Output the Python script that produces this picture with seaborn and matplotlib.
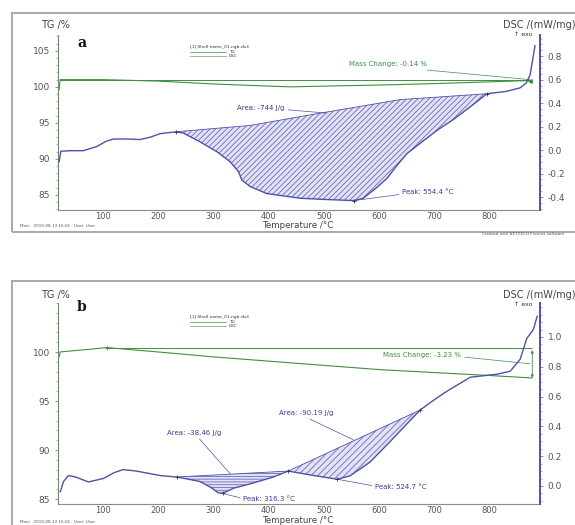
import numpy as np
import seaborn as sns
import matplotlib.pyplot as plt
from matplotlib.patches import Rectangle
from matplotlib.lines import Line2D
from matplotlib.ticker import MultipleLocator

# ---- panel a data ----
temp_tg_a = [20, 22, 100, 200, 300, 400, 438, 500, 600, 700, 800, 873]
tg_a = [99.6, 101.0, 101.0, 100.8, 100.4, 100.1, 100.0, 100.1, 100.25, 100.45, 100.7, 100.88]
tg_ref_a = 101.0

temp_dsc_a = [20, 23, 40, 64, 88, 105, 118, 140, 167, 185, 203, 232, 245, 275, 306, 330, 345,
              351, 366, 396, 457, 500, 554, 571, 595, 614, 632, 650, 680, 705, 734, 765, 795,
              830, 855, 866, 873, 882]
dsc_a = [-0.10, -0.01, -0.005, -0.005, 0.03, 0.075, 0.094, 0.095, 0.09, 0.11, 0.14, 0.156, 0.145,
         0.071, -0.014, -0.10, -0.185, -0.255, -0.31, -0.37, -0.41, -0.42, -0.43, -0.41, -0.32,
         -0.24, -0.13, -0.03, 0.08, 0.17, 0.26, 0.37, 0.48, 0.50, 0.53, 0.57, 0.64, 0.89]
base_temp_a = [232, 366, 487, 638, 795]
base_a = [0.156, 0.21, 0.31, 0.43, 0.48]

# ---- panel b data ----
temp_tg_b = [20, 22, 30, 60, 107, 200, 300, 438, 601, 700, 800, 877]
tg_b = [99.5, 100.0, 100.05, 100.2, 100.45, 100.0, 99.5, 98.9, 98.2, 97.9, 97.6, 97.35]
tg_ref_b = 100.45

temp_dsc_b = [22, 28, 37, 50, 73, 100, 120, 136, 160, 203, 233, 255, 275, 295, 308, 316, 336,
              366, 408, 435, 475, 524, 547, 583, 620, 661, 674, 700, 722, 765, 813, 837, 855,
              867, 879, 886]
dsc_b = [-0.04, 0.03, 0.07, 0.06, 0.027, 0.05, 0.09, 0.11, 0.10, 0.07, 0.06, 0.045, 0.03, -0.01,
         -0.045, -0.05, -0.015, 0.014, 0.06, 0.10, 0.074, 0.045, 0.068, 0.16, 0.30, 0.46, 0.51,
         0.58, 0.635, 0.73, 0.75, 0.77, 0.85, 0.99, 1.05, 1.14]
base_temp_b1 = [233, 435]
base_b1 = [0.06, 0.10]
base_temp_b2 = [435, 674]
base_b2 = [0.10, 0.51]

x_ticks = [100, 200, 300, 400, 500, 600, 700, 800]

GREEN = '#3f8f3f'
BLUE = '#5050a8'
TXT_BLUE = '#3a3aa0'
GREY = '#555555'

sns.set_style("white")
plt.rcParams['font.family'] = ['DejaVu Sans']
plt.rcParams['hatch.linewidth'] = 0.6

W, H = 575, 525
fig = plt.figure(figsize=(W / 100, H / 100), dpi=100)


def fx(px):
    return px / W


def fy(py):
    return 1 - py / H


def style_axes(ax, ax2):
    ax.set_xlim(18, 891)
    ax.set_xticks(x_ticks)
    ax.xaxis.set_minor_locator(MultipleLocator(20))
    ax.yaxis.set_minor_locator(MultipleLocator(1))
    ax2.yaxis.set_minor_locator(MultipleLocator(0.05))
    for a in (ax, ax2):
        a.tick_params(which='major', direction='out', length=2.5, width=0.6, colors='#808080',
                      labelsize=6.5, labelcolor=GREY)
        a.tick_params(which='minor', direction='out', length=1.3, width=0.5, colors='#909090')
        a.spines['top'].set_visible(False)
    ax.spines['right'].set_visible(False)
    ax.spines['left'].set_color('#708a70')
    ax.spines['bottom'].set_color('#8a8a8a')
    ax2.spines['left'].set_visible(False)
    ax2.spines['bottom'].set_visible(False)
    ax2.spines['right'].set_color(BLUE)
    ax2.spines['right'].set_linewidth(1.4)
    ax.tick_params(axis='x', which='major', length=1.5, pad=0, labelsize=6)
    ax.tick_params(axis='y', pad=3)
    ax2.tick_params(axis='y', pad=3)
    ax.set_xlabel('')
    ax.set_ylabel('')
    ax2.set_ylabel('')


def hatch_area(ax2, temps, vals, btemps, bvals, hatch):
    xs = np.array(temps)
    m = (xs >= btemps[0]) & (xs <= btemps[-1])
    xf = np.union1d(xs[m], btemps)
    cur = np.interp(xf, temps, vals)
    bas = np.interp(xf, btemps, bvals)
    ax2.fill_between(xf, cur, bas, facecolor='#e2e2f4', edgecolor='#6a6ac0', hatch=hatch,
                     linewidth=0, zorder=1)
    ax2.plot(btemps, bvals, color=BLUE, lw=0.6, zorder=2)


# ================= panel a =================
ax_a = fig.add_axes([fx(58), fy(210), fx(540) - fx(58), fy(35) - fy(210)])
ax_a2 = ax_a.twinx()

ax_a.hlines(tg_ref_a, temp_tg_a[1], temp_tg_a[-1], color=GREEN, lw=0.7)
sns.lineplot(x=temp_tg_a, y=tg_a, ax=ax_a, color=GREEN, lw=0.8, estimator=None, sort=False)
ax_a.set_ylim(82.9, 107.2)
ax_a.set_yticks([85, 90, 95, 100, 105])

hatch_area(ax_a2, temp_dsc_a, dsc_a, base_temp_a, base_a, '//////')
sns.lineplot(x=temp_dsc_a, y=dsc_a, ax=ax_a2, color=BLUE, lw=1.0, estimator=None, sort=False,
             zorder=3)
ax_a2.set_ylim(-0.51, 0.98)
ax_a2.set_yticks([-0.4, -0.2, 0.0, 0.2, 0.4, 0.6, 0.8])
ax_a2.set_yticklabels(['-0.4', '-0.2', '0.0', '0.2', '0.4', '0.6', '0.8'])
style_axes(ax_a, ax_a2)

ax_a2.plot([base_temp_a[0], 554, base_temp_a[-1]],
           [base_a[0], dsc_a[temp_dsc_a.index(554)], base_a[-1]],
           '+', color='#333366', ms=3, mew=0.6, zorder=4)
ax_a2.annotate('Area: -744 J/g', xy=(505, 0.315), xytext=(386, 0.355), fontsize=5,
               color=TXT_BLUE, ha='center', va='center',
               arrowprops=dict(arrowstyle='-', color=BLUE, lw=0.5, relpos=(1, 0.3),
                               shrinkA=0, shrinkB=0))
ax_a2.annotate('Peak: 554.4 °C', xy=(554, dsc_a[temp_dsc_a.index(554)]), xytext=(641, -0.36),
               fontsize=5, color=TXT_BLUE, ha='left', va='center',
               arrowprops=dict(arrowstyle='-', color=BLUE, lw=0.5, relpos=(0, 0.2),
                               shrinkA=0, shrinkB=0))
ax_a.annotate('Mass Change: -0.14 %', xy=(873, tg_ref_a), xytext=(616, 103.2), fontsize=5,
              color=GREEN, ha='center', va='center',
              arrowprops=dict(arrowstyle='-', color=GREEN, lw=0.5, relpos=(0.55, 0),
                              shrinkA=0, shrinkB=0))
ax_a.plot([873], [tg_a[-1]], marker='<', color=GREEN, ms=2.5)

# ================= panel b =================
ax_b = fig.add_axes([fx(58), fy(504), fx(540) - fx(58), fy(303) - fy(504)])
ax_b2 = ax_b.twinx()

ax_b.hlines(tg_ref_b, temp_tg_b[4], temp_tg_b[-1], color=GREEN, lw=0.7)
sns.lineplot(x=temp_tg_b, y=tg_b, ax=ax_b, color=GREEN, lw=0.8, estimator=None, sort=False)
ax_b.set_ylim(84.49, 105.0)
ax_b.set_yticks([85, 90, 95, 100])
ax_b.plot([temp_tg_b[4]], [tg_b[4]], '+', color=GREEN, ms=3, mew=0.6)

hatch_area(ax_b2, temp_dsc_b, dsc_b, base_temp_b1, base_b1, '------')
hatch_area(ax_b2, temp_dsc_b, dsc_b, base_temp_b2, base_b2, '/////')
sns.lineplot(x=temp_dsc_b, y=dsc_b, ax=ax_b2, color=BLUE, lw=1.0, estimator=None, sort=False,
             zorder=3)
ax_b2.set_ylim(-0.121, 1.228)
ax_b2.set_yticks([0.0, 0.2, 0.4, 0.6, 0.8, 1.0])
ax_b2.set_yticklabels(['0.0', '0.2', '0.4', '0.6', '0.8', '1.0'])
style_axes(ax_b, ax_b2)

ax_b2.plot([233, 316, 435, 524, 674],
           [dsc_b[temp_dsc_b.index(t)] for t in (233, 316, 435, 524, 674)],
           '+', color='#333366', ms=3, mew=0.6, zorder=4)
ax_b2.annotate('Area: -38.46 J/g', xy=(330, 0.081), xytext=(264, 0.358), fontsize=5,
               color=TXT_BLUE, ha='center', va='center',
               arrowprops=dict(arrowstyle='-', color=BLUE, lw=0.5, relpos=(0.55, 0),
                               shrinkA=0, shrinkB=0))
ax_b2.annotate('Peak: 316.3 °C', xy=(316, -0.05), xytext=(353, -0.088), fontsize=5,
               color=TXT_BLUE, ha='left', va='center',
               arrowprops=dict(arrowstyle='-', color=BLUE, lw=0.5, relpos=(0, 0.6),
                               shrinkA=0, shrinkB=0))
ax_b2.annotate('Area: -90.19 J/g', xy=(553, 0.31), xytext=(467, 0.49), fontsize=5,
               color=TXT_BLUE, ha='center', va='center',
               arrowprops=dict(arrowstyle='-', color=BLUE, lw=0.5, relpos=(0.45, 0),
                               shrinkA=0, shrinkB=0))
ax_b2.annotate('Peak: 524.7 °C', xy=(524, 0.045), xytext=(592, -0.005), fontsize=5,
               color=TXT_BLUE, ha='left', va='center',
               arrowprops=dict(arrowstyle='-', color=BLUE, lw=0.5, relpos=(0, 0.6),
                               shrinkA=0, shrinkB=0))
ax_b.annotate('Mass Change: -3.23 %', xy=(873, 98.8), xytext=(678, 99.69), fontsize=5,
              color=GREEN, ha='center', va='center',
              arrowprops=dict(arrowstyle='-', color=GREEN, lw=0.5, relpos=(1, 0.2),
                              shrinkA=0, shrinkB=0))
ax_b.annotate('', xy=(877, 97.35), xytext=(877, 100.2),
              arrowprops=dict(arrowstyle='<|-|>', color=GREEN, lw=0.6, mutation_scale=4,
                              shrinkA=0, shrinkB=0))

# ================= frame, labels, small texts =================
fig.add_artist(Rectangle((fx(12), fy(232)), 1.0, fy(13) - fy(232), transform=fig.transFigure,
                         fill=False, edgecolor='#a8a8a8', lw=1.4))
fig.add_artist(Rectangle((fx(12), -0.1), 1.0, fy(281) + 0.1, transform=fig.transFigure,
                         fill=False, edgecolor='#a8a8a8', lw=1.4))

for top, xl_y, foot_y, tag in [(0, 221.5, 226, 'a'), (270, 516.3, 522, 'b')]:
    fig.text(fx(55), fy(top + 25), 'TG /%', fontsize=7, color='#444444', ha='center',
             va='center')
    fig.text(fx(503), fy(top + 25), 'DSC /(mW/mg)', fontsize=7, color='#444444', ha='left',
             va='center')
    fig.text(fx(523), fy(top + 34), '↑ exo', fontsize=4.5, color='#333333', ha='center',
             va='center')
    fig.text(fx(298), fy(xl_y), 'Temperature /°C', fontsize=6.3, color='#444444', ha='center',
             va='top')
    fig.text(fx(82), fy(top + 43 if tag == 'a' else top + 37), tag, fontsize=10,
             fontweight='bold', family='DejaVu Serif', color='#111111', ha='center',
             va='center')
    fig.text(fx(20), fy(foot_y), 'Main   2019-08-13 16:01   User: User', fontsize=3,
             color='#555555', ha='left', va='center')
    # tiny curve legend
    fig.text(fx(190), fy(top + 47), '[1] Shell name_01.ngb-ds3', fontsize=3.2,
             color='#333333', ha='left', va='center')
    fig.add_artist(Line2D([fx(190), fx(226)], [fy(top + 52), fy(top + 52)],
                          transform=fig.transFigure, color=GREEN, lw=0.5))
    fig.add_artist(Line2D([fx(190), fx(226)], [fy(top + 56), fy(top + 56)],
                          transform=fig.transFigure, color='#8a8a8a', lw=0.5))
    fig.text(fx(229), fy(top + 52), 'TG', fontsize=3, color='#333333', ha='left', va='center')
    fig.text(fx(229), fy(top + 56), 'DSC', fontsize=3, color='#333333', ha='left', va='center')

fig.text(fx(482), fy(234), 'Created with NETZSCH Proteus software', fontsize=3,
         color='#555555', ha='left', va='center')

fig.savefig('out.png', dpi=100)
